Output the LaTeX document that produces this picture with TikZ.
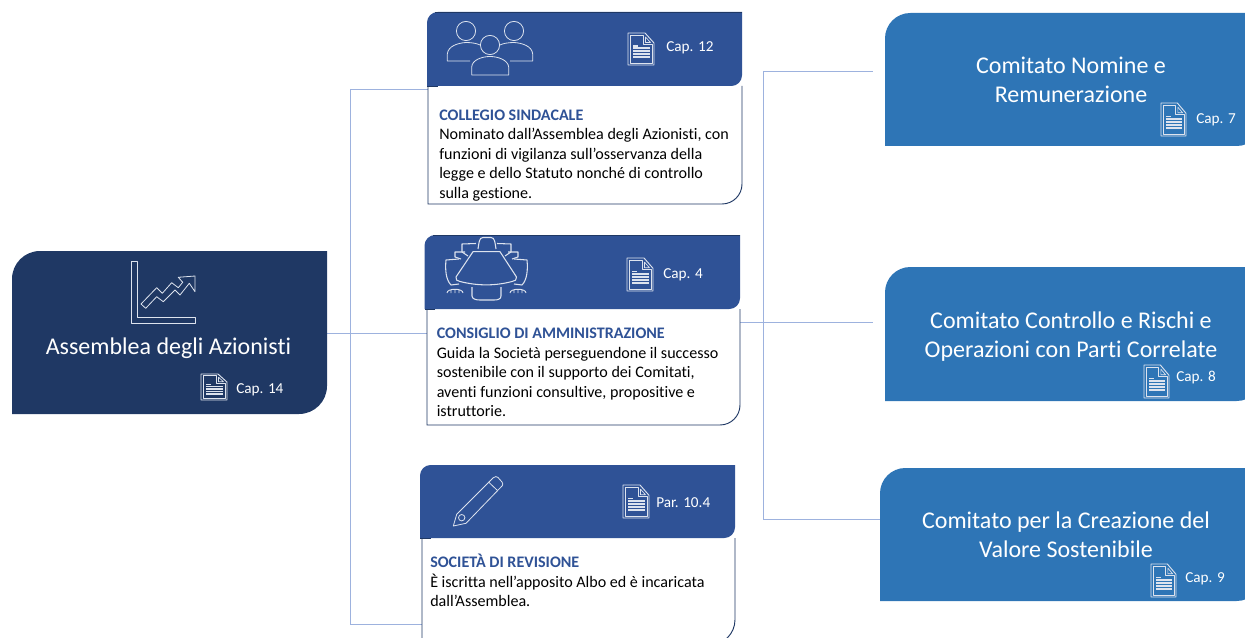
\documentclass[tikz,border=0pt]{standalone}
\usepackage{fontspec}
\setmainfont[Ligatures=NoCommon]{Carlito}
\definecolor{navy}{HTML}{1F3864}
\definecolor{hdr}{HTML}{2F5296}
\definecolor{comm}{HTML}{2E75B6}
\definecolor{conn}{HTML}{9DB2DE}
\definecolor{bord}{HTML}{1F3864}
\definecolor{icon}{HTML}{DDE3EE}
\definecolor{titlec}{HTML}{2F5296}
\tikzset{
  x=0.75pt,y=-0.75pt,
  connector/.style={draw=conn,line width=0.7pt},
  iconline/.style={draw=icon,line width=0.6pt,line join=round},
  bodytext/.style={anchor=north west,align=left,inner sep=0pt,font=\fontsize{12.05}{14.65}\selectfont,text=black},
  bigtext/.style={text=white,align=center,inner sep=0pt,font=\fontsize{18}{21.8}\selectfont},
  captext/.style={anchor=west,text=white,inner sep=0pt,font=\fontsize{11.4}{12}\selectfont},
}
\newcommand{\snipbox}[7]{%
  \node[inner sep=0pt,outer sep=0pt,minimum width={(#5-#3)*0.75pt},minimum height={(#6-#4)*0.75pt}] (#2) at ({(#3+#5)/2},{(#4+#6)/2}) {};
  \fill[#1] (#2.south west) -- ([yshift=-#7]#2.north west) arc[start angle=180,end angle=90,radius=#7]
     -- (#2.north east) -- ([yshift=#7]#2.south east) arc[start angle=0,end angle=-90,radius=#7] -- cycle;
}
\newcommand{\panel}[6]{%
  \node[inner sep=0pt,outer sep=0pt,minimum width={(#4-#2)*0.75pt},minimum height={(#5-#3)*0.75pt}] (#1) at ({(#2+#4)/2},{(#3+#5)/2}) {};
  \draw[bord,line width=0.7pt,fill=white] (#1.north west) -- (#1.south west) -- ([xshift=-#6]#1.south east) arc[start angle=-90,end angle=0,radius=#6] -- (#1.north east);
}
\newcommand{\docicon}[4]{%
  \begin{scope}[shift={(#1,#2)},xscale=#3/26,yscale=#4/32]
    \draw[iconline,line width=0.7pt] (0,0) -- (17,0) -- (26,10) -- (26,32) -- (0,32) -- cycle;
    \draw[iconline,line width=0.5pt] (2,2) -- (15,2) -- (15,11) -- (24,11) -- (24,30) -- (2,30) -- cycle;
    \draw[iconline,line width=0.5pt] (17.5,4) -- (22.5,9.5) -- (17.5,9.5) -- cycle;
    \fill[icon] (5,12.5) rectangle (10,14);
    \foreach \yy in {14.5,17.5,20.5,23.5} {\fill[icon] (5,\yy) rectangle (22,\yy+2);}
  \end{scope}
}
\begin{document}
\begin{tikzpicture}
\useasboundingbox (0,0) rectangle (1245,638);
\begin{scope}
\clip (0,0) rectangle (1245,638);

\coordinate (busLt) at (350,89);
\coordinate (busLb) at (350,624);
\coordinate (endCS) at (428,89);
\coordinate (endSR) at (422,624);
\coordinate (busRt) at (763,71);
\coordinate (busRb) at (763,519);
\coordinate (endN) at (873,71);
\coordinate (endC) at (873,322);
\coordinate (startC) at (740,322);
\coordinate (endV) at (880,519);
\coordinate (startA) at (327,333);
\coordinate (endCdA) at (427,333);

\draw[connector] (busLt) -- (busLb);
\draw[connector] (busLt) -- (endCS);
\draw[connector] (busLb) -- (endSR);
\draw[connector] (startA) -- (endCdA);
\draw[connector] (busRt) -- (busRb);
\draw[connector] (busRt) -- (endN);
\draw[connector] (startC) -- (endC);
\draw[connector] (busRb) -- (endV);

\snipbox{navy}{asm}{12}{251}{327}{414}{21pt}
\node[bigtext] (asmt) at (168.5,348.5) {Assemblea degli Azionisti};
\draw[iconline] (131.7,261) -- (137.7,261) -- (137.7,317.3) -- (195,317.3) -- (195,323.3) -- (131.7,323.3) -- cycle;
\draw[iconline] (141,304) -- (145.7,308.3) -- (156.7,296.7) -- (163.3,301.7) -- (175,290) -- (180,295) -- (189.3,283.3) -- (195,291.7) -- (195,276) -- (178.3,277.3) -- (182.7,282.3) -- (178.3,287.7) -- (171.7,282.7) -- (162.3,293.3) -- (156.7,287.7) -- cycle;
\docicon{201}{374}{26}{26}
\node[captext] (c14) at (236,390) {Cap. 14};

\panel{csb}{428}{86}{742}{204}{15pt}
\snipbox{hdr}{csh}{427}{12}{742}{86}{8pt}
\draw[bord,line width=0.6pt] (csh.north east) -- ([xshift=6pt]csh.north west);
\draw[bord,line width=0.6pt] ([xshift=8pt]csh.south west) -- (csh.south west);
\draw[iconline] (466,31) circle[radius=7.2pt];
\draw[iconline] (514,31) circle[radius=7.2pt];
\draw[iconline] (490,45) circle[radius=7.2pt];
\draw[iconline] (470,61) -- (447.3,61) -- (447.3,54) .. controls (448,46) and (458,43) .. (466,42.5) .. controls (472,42.5) and (477,43.5) .. (480,45);
\draw[iconline] (510,61) -- (532.7,61) -- (532.7,54) .. controls (532,46) and (522,43) .. (514,42.5) .. controls (508,42.5) and (503,43.5) .. (500,45);
\draw[iconline] (471.7,75) -- (471.7,67) .. controls (472,60) and (482,56.5) .. (490,56.5) .. controls (498,56.5) and (508,60) .. (508.7,67) -- (508.7,75) -- cycle;
\docicon{628}{33}{26}{32}
\node[captext] (c12) at (666,48) {Cap. 12};
\node[bodytext] (cst) at (439,109.5) {\textcolor{titlec}{\textbf{COLLEGIO SINDACALE}}\\Nominato dall’Assemblea degli Azionisti, con\\funzioni di vigilanza sull’osservanza della\\legge e dello Statuto nonché di controllo\\sulla gestione.};

\panel{cdb}{427}{309}{740}{425}{15pt}
\snipbox{hdr}{cdh}{424.5}{235}{740}{309}{8pt}
\draw[bord,line width=0.6pt] (cdh.north east) -- ([xshift=6pt]cdh.north west);
\draw[bord,line width=0.6pt] ([xshift=8pt]cdh.south west) -- (cdh.south west);
\draw[iconline,line width=0.8pt] (473,251.7) -- (500,251.7) -- (516.5,277) .. controls (517,280) and (515,281) .. (512,281.5) .. controls (495,286) and (478,286) .. (460,281.5) .. controls (457,281) and (455.5,280) .. (456,277) -- cycle;
\draw[iconline,line width=0.8pt] (478,249) .. controls (479,243) and (479,237.5) .. (483,237.5) -- (491,237.5) .. controls (495,237.5) and (495,243) .. (496,249);
\draw[iconline,line width=0.8pt] (468,256) -- (462,252) -- (462,244) -- (476,243.5) (505,256) -- (511,252) -- (511,244) -- (497,243.5);
\draw[iconline,line width=0.8pt] (461,259) -- (455,257) -- (455,252) -- (465,252) (512,259) -- (518,257) -- (518,252) -- (508,252);
\draw[iconline,line width=0.8pt] (459,259) -- (446,260) .. controls (445,270) and (446,280) .. (451,285) -- (459,284) (514,259) -- (527,260) .. controls (528,270) and (527,280) .. (522,285) -- (514,284);
\draw[iconline,line width=0.8pt] (472,287) -- (472,296) .. controls (472,299) and (476,300) .. (480,300) -- (494,300) .. controls (498,300) and (501,299) .. (501,296) -- (501,287);
\draw[iconline,line width=0.7pt] (447,293) .. controls (447,288) and (463,288) .. (463,293) (451,293) -- (451,290) (455,293) -- (455,289) (459,293) -- (459,290) (510,293) .. controls (510,288) and (526,288) .. (526,293) (514,293) -- (514,290) (518,293) -- (518,289) (522,293) -- (522,290);
\docicon{627}{258}{26}{33}
\node[captext] (c4) at (663,275) {Cap. 4};
\node[bodytext] (cdt) at (436.5,328) {\textcolor{titlec}{\textbf{CONSIGLIO DI AMMINISTRAZIONE}}\\Guida la Società perseguendone il successo\\sostenibile con il supporto dei Comitati,\\aventi funzioni consultive, propositive e\\istruttorie.};

\panel{srb}{422}{538}{735}{645}{19pt}
\snipbox{hdr}{srh}{420}{465}{735}{538}{8pt}
\draw[bord,line width=0.6pt] ([xshift=8pt]srh.south west) -- (srh.south west);
\draw[iconline] (453.3,526) -- (456.7,514.3) -- (493.3,477.7) .. controls (495,476) and (497,476.5) .. (498,477.5) -- (502,482) .. controls (503,483.5) and (503,484.5) .. (502.3,485.7) -- (466,523.3) -- cycle;
\draw[iconline] (488.5,482) -- (497.5,490.5);
\draw[iconline] (461.7,517.7) circle[radius=2.4pt];
\docicon{623}{485}{26}{33}
\node[captext] (p104) at (656,503) {Par. 10.4};
\node[bodytext] (srt) at (430,554) {\textcolor{titlec}{\textbf{SOCIETÀ DI REVISIONE}}\\È iscritta nell’apposito Albo ed è incaricata\\dall’Assemblea.};

\snipbox{comm}{nom}{885}{13}{1262}{146}{19pt}
\node[bigtext] (nomt) at (1071,80) {Comitato Nomine e\\Remunerazione};
\docicon{1161}{103}{25}{33}
\node[captext] (c7) at (1196,120) {Cap. 7};

\snipbox{comm}{ctr}{885}{267}{1262}{401}{19pt}
\node[bigtext] (ctrt) at (1071,336.5) {Comitato Controllo e Rischi e\\Operazioni con Parti Correlate};
\docicon{1144}{365}{25}{33}
\node[captext] (c8) at (1176,378) {Cap. 8};

\snipbox{comm}{val}{880}{468}{1262}{601}{19pt}
\node[bigtext] (valt) at (1066,535) {Comitato per la Creazione del\\Valore Sostenibile};
\docicon{1151}{564}{25}{33}
\node[captext] (c9) at (1185,579) {Cap. 9};
\end{scope}
\end{tikzpicture}
\end{document}
